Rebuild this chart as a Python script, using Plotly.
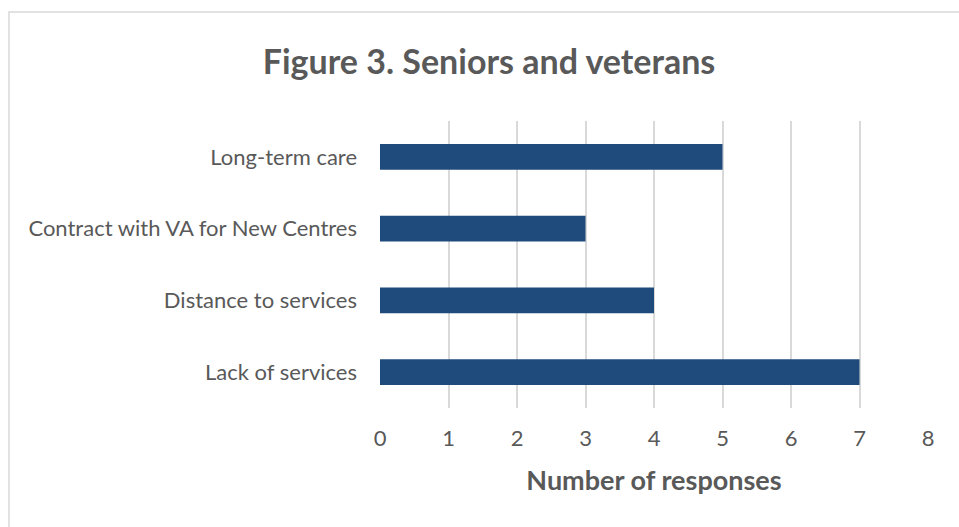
import plotly.graph_objects as go

# Survey responses, listed top to bottom
categories = [
    "Long-term care",
    "Contract with VA for New Centres",
    "Distance to services",
    "Lack of services",
]
responses = [5, 3, 4, 7]
x_ticks = [0, 1, 2, 3, 4, 5, 6, 7, 8]

W, H = 959, 527
L, R, T, B = 380, 31, 121, 119
pw, ph = W - L - R, H - T - B

TEXT = "#595959"
GRID = "#D9D9D9"
BAR = "#1F4A7C"
FONT = "Lato"

fig = go.Figure(
    go.Bar(
        x=responses,
        y=categories,
        orientation="h",
        marker=dict(color=BAR, line=dict(width=0)),
        width=0.36,
    )
)

# chart frame
fx0 = (9 - L) / pw
fy1 = 1 + (T - 12) / ph
fig.add_shape(
    type="rect", xref="paper", yref="paper",
    x0=fx0, x1=(W + 20 - L) / pw, y0=-(B + 20) / ph, y1=fy1,
    line=dict(color=GRID, width=1.5), fillcolor="rgba(0,0,0,0)", layer="below",
)

fig.update_layout(
    width=W, height=H,
    margin=dict(l=L, r=R, t=T, b=B, pad=0),
    paper_bgcolor="white", plot_bgcolor="white",
    showlegend=False,
    font=dict(family=FONT, color=TEXT, size=22),
    title=dict(
        text="<b>Figure 3. Seniors and veterans</b>",
        font=dict(family=FONT, size=34, color=TEXT, weight=900),
        xref="container", yref="container",
        x=489 / W, y=1 - 62 / H, xanchor="center", yanchor="middle",
    ),
    xaxis=dict(
        range=[0, 8], tickvals=x_ticks, ticktext=[str(v) for v in x_ticks],
        showgrid=True, gridcolor=GRID, gridwidth=1.5,
        zeroline=False, showline=False, ticks="",
        tickfont=dict(size=22, color=TEXT),
        ticklabelstandoff=15,
        title=dict(text="<b>Number of responses</b>",
                   font=dict(size=27, color=TEXT), standoff=21),
    ),
    yaxis=dict(
        autorange="reversed",
        showgrid=False, zeroline=False, showline=False, ticks="",
        tickfont=dict(size=22, color=TEXT),
        ticklabelstandoff=22,
    ),
)

fig.write_html("out.html")
